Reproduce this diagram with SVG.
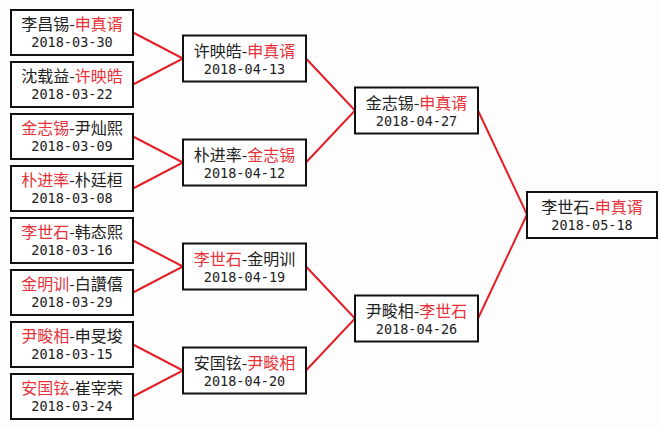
<svg xmlns="http://www.w3.org/2000/svg" width="660" height="429" viewBox="0 0 660 429">
<style>
.bg{fill:#fdfdfd}
.box{fill:#ffffff;stroke:#111;stroke-width:2}
.cn{font-family:"Noto Sans CJK SC","Noto Sans CJK JP",sans-serif;font-size:16px;fill:#222;text-anchor:middle}
.r{fill:#e8323a}
.dt{font-family:"DejaVu Sans Mono","Liberation Mono",monospace;font-size:13.5px;fill:#222;text-anchor:middle}
.ln{stroke:#e41e26;stroke-width:2;fill:none}
</style>
<rect class="bg" x="0" y="0" width="660" height="429"/>
<g id="connectors">
<path class="ln" d="M133,32.5 L183,58.5 L133,84.5"/>
<path class="ln" d="M133,136.5 L183,162.5 L133,188.5"/>
<path class="ln" d="M133,240.5 L183,266.5 L133,292.5"/>
<path class="ln" d="M133,344.5 L183,370.5 L133,396.5"/>
<path class="ln" d="M306,58.5 L355,110.5 L306,162.5"/>
<path class="ln" d="M306,266.5 L355,318.5 L306,370.5"/>
<path class="ln" d="M478,110.5 L527,214.5 L478,318.5"/>
</g>
<g id="n1"><rect class="box" x="11" y="10" width="122" height="45"/><text class="cn" x="72" y="30">李昌锡-<tspan class="r">申真谞</tspan></text><text class="dt" x="72" y="47">2018-03-30</text></g>
<g id="n2"><rect class="box" x="11" y="62" width="122" height="45"/><text class="cn" x="72" y="82">沈载益-<tspan class="r">许映皓</tspan></text><text class="dt" x="72" y="99">2018-03-22</text></g>
<g id="n3"><rect class="box" x="11" y="114" width="122" height="45"/><text class="cn" x="72" y="134"><tspan class="r">金志锡</tspan>-尹灿熙</text><text class="dt" x="72" y="151">2018-03-09</text></g>
<g id="n4"><rect class="box" x="11" y="166" width="122" height="45"/><text class="cn" x="72" y="186"><tspan class="r">朴进率</tspan>-朴廷桓</text><text class="dt" x="72" y="203">2018-03-08</text></g>
<g id="n5"><rect class="box" x="11" y="218" width="122" height="45"/><text class="cn" x="72" y="238"><tspan class="r">李世石</tspan>-韩态熙</text><text class="dt" x="72" y="255">2018-03-16</text></g>
<g id="n6"><rect class="box" x="11" y="270" width="122" height="45"/><text class="cn" x="72" y="290"><tspan class="r">金明训</tspan>-白讚僖</text><text class="dt" x="72" y="307">2018-03-29</text></g>
<g id="n7"><rect class="box" x="11" y="322" width="122" height="45"/><text class="cn" x="72" y="342"><tspan class="r">尹畯相</tspan>-申旻埈</text><text class="dt" x="72" y="359">2018-03-15</text></g>
<g id="n8"><rect class="box" x="11" y="374" width="122" height="45"/><text class="cn" x="72" y="394"><tspan class="r">安国铉</tspan>-崔宰荣</text><text class="dt" x="72" y="411">2018-03-24</text></g>
<g id="m1"><rect class="box" x="183" y="35.5" width="123" height="46"/><text class="cn" x="244.5" y="57">许映皓-<tspan class="r">申真谞</tspan></text><text class="dt" x="244.5" y="74">2018-04-13</text></g>
<g id="m2"><rect class="box" x="183" y="139.5" width="123" height="46"/><text class="cn" x="244.5" y="161">朴进率-<tspan class="r">金志锡</tspan></text><text class="dt" x="244.5" y="178">2018-04-12</text></g>
<g id="m3"><rect class="box" x="183" y="243.5" width="123" height="46"/><text class="cn" x="244.5" y="265"><tspan class="r">李世石</tspan>-金明训</text><text class="dt" x="244.5" y="282">2018-04-19</text></g>
<g id="m4"><rect class="box" x="183" y="347.5" width="123" height="46"/><text class="cn" x="244.5" y="369">安国铉-<tspan class="r">尹畯相</tspan></text><text class="dt" x="244.5" y="386">2018-04-20</text></g>
<g id="s1"><rect class="box" x="355" y="87.5" width="123" height="46"/><text class="cn" x="416.5" y="109">金志锡-<tspan class="r">申真谞</tspan></text><text class="dt" x="416.5" y="126">2018-04-27</text></g>
<g id="s2"><rect class="box" x="355" y="295.5" width="123" height="46"/><text class="cn" x="416.5" y="317">尹畯相-<tspan class="r">李世石</tspan></text><text class="dt" x="416.5" y="334">2018-04-26</text></g>
<g id="f1"><rect class="box" x="527" y="192" width="130" height="46"/><text class="cn" x="592" y="213">李世石-<tspan class="r">申真谞</tspan></text><text class="dt" x="592" y="230">2018-05-18</text></g>
</svg>
